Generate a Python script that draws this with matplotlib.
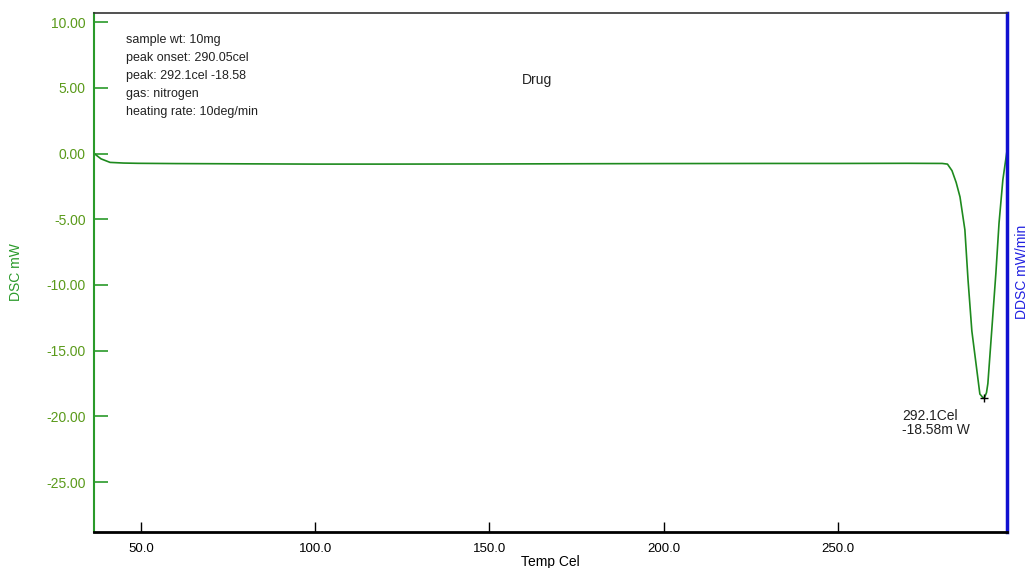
import matplotlib.pyplot as plt
import numpy as np

plt.rcParams['font.family'] = ['Liberation Sans', 'DejaVu Sans']

# DSC trace (Temp Cel, mW)
temp = [36.8, 38.5, 41.1, 45.0, 49.1, 60.0, 80.0, 100.0, 120.0, 150.0, 180.0,
        200.0, 230.0, 250.0, 270.0, 280.0, 281.5, 282.8, 284.0, 285.1, 286.5,
        287.4, 288.5, 289.7, 290.8, 291.6, 292.1, 292.7, 293.1, 294.2, 295.4,
        296.3, 297.4, 298.5]
dsc = [-0.05, -0.4, -0.67, -0.72, -0.74, -0.76, -0.78, -0.8, -0.8, -0.79, -0.77,
       -0.76, -0.75, -0.75, -0.74, -0.75, -0.8, -1.3, -2.2, -3.3, -5.8,
       -9.6, -13.5, -16.0, -18.3, -18.55, -18.58, -18.2, -17.5, -13.5, -9.1,
       -5.3, -2.0, 0.05]

yticks = [10, 5, 0, -5, -10, -15, -20, -25]
xticks = [50, 100, 150, 200, 250]

info = ("sample wt: 10mg\npeak onset: 290.05cel\npeak: 292.1cel -18.58\n"
        "gas: nitrogen\nheating rate: 10deg/min")
peak_t, peak_v = 292.1, -18.58

fig = plt.figure(figsize=(10.3, 5.68), dpi=100)
ax = fig.add_axes([0.0913, 0.0634, 0.8864, 0.9137])

ax.plot(temp, dsc, color='#1e8a1e', lw=1.2)
ax.plot(peak_t, peak_v, marker='+', color='black', ms=6, mew=1)

ax.set_xlim(36.5, 298.6)
ax.set_ylim(-28.8, 10.7)
ax.set_xticks(xticks)
ax.set_xticklabels(['%.1f' % v for v in xticks])
ax.set_yticks(yticks)
ax.set_yticklabels(['%.2f' % v for v in yticks])

ax.tick_params(axis='y', direction='in', length=10, width=1.2, color='#2a9a2a',
               labelcolor='#5a9a1a', labelsize=10, pad=6)
ax.tick_params(axis='x', direction='in', length=7, width=1, color='black',
               labelsize=9.5, pad=8)

ax.spines['left'].set_color('#2a9a2a')
ax.spines['left'].set_linewidth(1.5)
ax.spines['top'].set_color('#333333')
ax.spines['top'].set_linewidth(1.2)
ax.spines['bottom'].set_color('black')
ax.spines['bottom'].set_linewidth(2)
ax.spines['right'].set_color('#1010d0')
ax.spines['right'].set_linewidth(2.5)

ax.set_xlabel('Temp Cel', fontsize=10, labelpad=0)
ax.set_ylabel('DSC mW', color='#2a9a2a', fontsize=10)
ax.yaxis.set_label_coords(-0.078, 0.5)
fig.text(0.992, 0.521, 'DDSC mW/min', color='#2020e0', fontsize=10,
         rotation=90, ha='center', va='center')

ax.text(0.035, 0.96, info, transform=ax.transAxes, fontsize=9, va='top',
        ha='left', linespacing=1.68, color='#222222')
ax.text(0.485, 0.87, 'Drug', transform=ax.transAxes, fontsize=10,
        ha='center', va='center', color='#222222')
ax.annotate('292.1Cel\n-18.58m W', (peak_t, peak_v), xytext=(-59, -8),
            textcoords='offset points', fontsize=10, va='top', ha='left',
            linespacing=1.0, color='#222222')

fig.savefig('out.png', dpi=100)
